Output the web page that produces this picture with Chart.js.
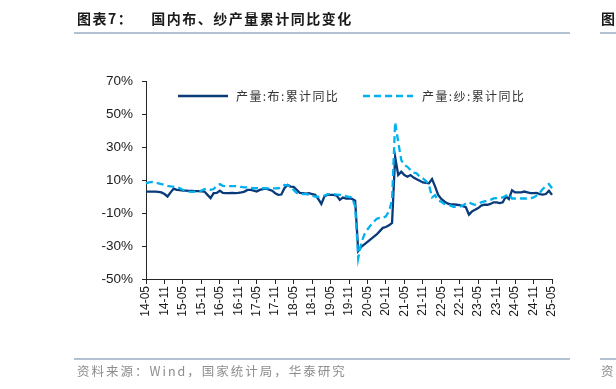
<!DOCTYPE html>
<html><head><meta charset="utf-8">
<script src="https://cdn.jsdelivr.net/npm/chart.js@4.4.0/dist/chart.umd.min.js"></script>
<style>
html,body{margin:0;padding:0;background:#fff;width:616px;height:389px;overflow:hidden;}
body{position:relative;font-family:"Liberation Sans",Arial,sans-serif;}
#c{position:absolute;left:0;top:0;}
.title{position:absolute;left:77px;top:8px;font-weight:bold;font-size:14px;font-family:"Noto Sans CJK SC",sans-serif;letter-spacing:1.5px;color:#1a1a1a;white-space:nowrap;line-height:20px;}
.rule{position:absolute;height:2px;background:#b3c1d2;}
.src{position:absolute;left:77px;top:362px;font-size:12.5px;font-family:"Noto Sans CJK SC",sans-serif;color:#8c8c8c;letter-spacing:2px;white-space:nowrap;line-height:18px;}
.lg{position:absolute;font-size:12px;font-family:"Noto Sans CJK SC",sans-serif;color:#333;letter-spacing:1.4px;white-space:nowrap;line-height:18px;}
.lgs{position:absolute;}
</style>
</head>
<body>
<canvas id="c" width="616" height="389"></canvas>
<div class="title">图表7：<span style="margin-left:18px;">国内布、纱产量累计同比变化</span></div>
<div class="rule" style="left:74px;top:32px;width:496px;"></div>
<div class="title" style="left:601px;">图表8</div>
<div class="rule" style="left:600px;top:32px;width:16px;"></div>
<div class="rule" style="left:74px;top:358px;width:496px;height:1.5px;"></div>
<div class="rule" style="left:600px;top:358px;width:16px;height:1.5px;"></div>
<div class="src">资料来源：Wind，国家统计局，华泰研究</div>
<div class="src" style="left:601px;">资料来源</div>
<svg class="lgs" style="left:178px;top:92px;" width="50" height="8"><line x1="0" y1="4" x2="50" y2="4" stroke="#093a7a" stroke-width="2.4"/></svg>
<div class="lg" style="left:236px;top:87px;">产量:布:累计同比</div>
<svg class="lgs" style="left:363px;top:92px;" width="50" height="8"><line x1="0" y1="4" x2="50" y2="4" stroke="#00b0f0" stroke-width="2.4" stroke-dasharray="7 4"/></svg>
<div class="lg" style="left:422px;top:87px;">产量:纱:累计同比</div>
<script>
const months = [
 '14-05','14-06','14-07','14-08','14-09','14-10','14-11','14-12',
 '15-01','15-02','15-03','15-04','15-05','15-06','15-07','15-08','15-09','15-10','15-11','15-12',
 '16-01','16-02','16-03','16-04','16-05','16-06','16-07','16-08','16-09','16-10','16-11','16-12',
 '17-01','17-02','17-03','17-04','17-05','17-06','17-07','17-08','17-09','17-10','17-11','17-12',
 '18-01','18-02','18-03','18-04','18-05','18-06','18-07','18-08','18-09','18-10','18-11','18-12',
 '19-01','19-02','19-03','19-04','19-05','19-06','19-07','19-08','19-09','19-10','19-11','19-12',
 '20-01','20-02','20-03','20-04','20-05','20-06','20-07','20-08','20-09','20-10','20-11','20-12',
 '21-01','21-02','21-03','21-04','21-05','21-06','21-07','21-08','21-09','21-10','21-11','21-12',
 '22-01','22-02','22-03','22-04','22-05','22-06','22-07','22-08','22-09','22-10','22-11','22-12',
 '23-01','23-02','23-03','23-04','23-05','23-06','23-07','23-08','23-09','23-10','23-11','23-12',
 '24-01','24-02','24-03','24-04','24-05','24-06','24-07','24-08','24-09','24-10','24-11','24-12',
 '25-01','25-02','25-03','25-04','25-05'
];
// 产量:布:累计同比 (%)
const fabricYoY = [
 3.0, 3.0, 3.0, 3.0, 2.8, 2.5, 1.5, 0.0,
 2.5, 4.8, 4.0, 3.8, 3.6, 3.5, 3.4, 3.4, 3.3, 3.2, 3.1, 3.0,
 1.0, -1.0, 2.0, 2.2, 3.5, 2.2, 2.0, 2.0, 2.2, 2.0, 2.2, 2.5,
 3.0, 4.0, 4.0, 3.5, 3.0, 4.0, 4.5, 4.8, 4.2, 3.5, 2.0, 1.0,
 1.2, 5.0, 7.0, 6.0, 5.8, 4.0, 2.2, 2.0, 1.8, 2.0, 1.5, 1.0,
 -1.5, -4.5, 0.0, 1.0, 1.0, 1.0, 0.5, -2.0, -0.6, -1.2, -1.2, -1.5,
 -2.5, -33.0, -30.5, -29.0, -27.5, -26.0, -24.5, -23.0, -21.0, -19.0, -18.5, -17.5,
 -16.0, 24.0, 13.0, 15.0, 13.0, 12.0, 13.0, 11.5, 10.5, 9.5, 8.5, 8.3,
 8.0, 10.5, 6.0, 1.0, -1.5, -3.0, -4.2, -4.8, -4.8, -5.0, -5.2, -5.8,
 -6.5, -11.0, -9.0, -8.0, -7.0, -5.5, -5.0, -5.0, -4.5, -3.5, -3.5, -4.0,
 -3.5, 0.0, -1.5, 3.8, 2.5, 2.5, 2.5, 3.0, 2.5, 2.0, 2.0, 2.2,
 1.5, 1.2, 1.5, 3.5, 1.0
];
// 产量:纱:累计同比 (%)
const yarnYoY = [
 8.0, 8.5, 8.8, 8.5, 8.0, 7.5, 7.0, 6.5,
 6.2, 6.0, 5.8, 5.0, 4.0, 3.5, 3.0, 2.8, 3.0, 3.2, 3.5, 4.5,
 4.8, 4.0, 4.5, 6.5, 7.5, 6.5, 6.3, 6.3, 6.3, 6.3, 6.0, 5.8,
 5.5, 5.5, 5.2, 5.0, 5.0, 5.0, 5.0, 4.9, 4.9, 4.9, 4.9, 5.0,
 5.5, 7.0, 6.8, 6.3, 4.0, 2.2, 1.8, 1.4, 1.4, 1.2, 0.5, 0.0,
 -0.2, 0.2, 0.5, 1.4, 1.4, 1.4, 1.2, 1.0, 0.8, 0.2, -0.2, -0.6,
 -6.0, -37.5, -28.0, -23.0, -20.0, -17.5, -15.5, -13.5, -13.0, -13.0, -12.0, -9.0,
 -2.0, 45.0, 33.0, 22.0, 19.0, 18.0, 16.0, 14.5, 14.0, 12.0, 11.0, 9.5,
 7.0, -0.5, 0.8, -2.5, -3.2, -4.5, -4.8, -5.5, -6.2, -6.2, -6.2, -5.5,
 -4.2, -3.5, -4.5, -5.0, -4.5, -3.5, -3.0, -2.5, -2.0, -1.2, -1.0, -0.8,
 -0.6, 0.4, 1.4, -1.2, -1.2, -1.0, -1.2, -1.2, -1.2, -1.0, -0.6, 0.5,
 2.2, 4.5, 6.3, 7.5, 5.0
];
const yTicks = [-50, -30, -10, 10, 30, 50, 70];

const axisColor = '#262626';
new Chart(document.getElementById('c'), {
  type: 'line',
  data: {
    labels: months,
    datasets: [
      { label: '产量:布:累计同比', data: fabricYoY, borderColor: '#093a7a', backgroundColor: '#093a7a',
        borderWidth: 2.3, pointRadius: 0, tension: 0, order: 1 },
      { label: '产量:纱:累计同比', data: yarnYoY, borderColor: '#00b0f0', backgroundColor: '#00b0f0',
        borderWidth: 2.3, borderDash: [7, 4], pointRadius: 0, tension: 0, order: 0 }
    ]
  },
  options: {
    responsive: false,
    animation: false,
    devicePixelRatio: 1,
    layout: { padding: { top: 81, right: 64, bottom: 0, left: 0 } },
    plugins: { legend: { display: false }, tooltip: { enabled: false } },
    scales: {
      x: {
        type: 'category',
        offset: false,
        border: { display: true, color: axisColor, width: 1 },
        grid: { drawOnChartArea: false, drawTicks: true, tickLength: 5,
                color: ctx => (ctx.index % 6 === 0 ? axisColor : 'rgba(0,0,0,0)') },
        ticks: { autoSkip: false, minRotation: 90, maxRotation: 90, padding: 2,
                 color: '#1a1a1a', font: { family: '"Liberation Sans", Arial', size: 12 },
                 callback: function(v, i) { return i % 6 === 0 ? months[i] : ''; } },
        afterFit: s => { s.height = 110; }
      },
      y: {
        min: -50, max: 70,
        afterBuildTicks: s => { s.ticks = yTicks.map(v => ({ value: v })); },
        border: { display: true, color: axisColor, width: 1 },
        grid: { drawOnChartArea: false, drawTicks: true, tickLength: 4, color: axisColor },
        ticks: { padding: 9, color: '#1a1a1a', font: { family: '"Liberation Sans", Arial', size: 13.5 },
                 callback: v => v + '%' },
        afterFit: s => { s.width = 146; }
      }
    }
  }
});
</script>
</body></html>
